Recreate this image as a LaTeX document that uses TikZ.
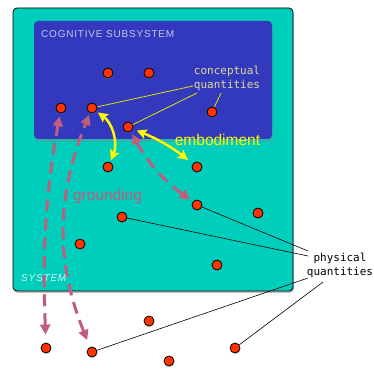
\documentclass[tikz,border=0pt]{standalone}
\usepackage{fontspec}
\setsansfont{Liberation Sans}
\setmonofont{DejaVu Sans Mono}
\newfontfamily\capsfont[LetterSpace=8]{Liberation Sans}
\usepackage{xcolor}
\usepackage{tikz}
\usetikzlibrary{arrows.meta,shadows,positioning}
\definecolor{sysgreen}{RGB}{0,206,188}
\definecolor{cogblue}{RGB}{50,57,189}
\definecolor{qred}{RGB}{255,51,0}
\definecolor{grpink}{RGB}{192,92,124}
\definecolor{embyellow}{RGB}{255,250,0}
\definecolor{cqtext}{RGB}{226,216,150}
\definecolor{cogtext}{RGB}{196,198,236}
\definecolor{systext}{RGB}{215,248,242}
\tikzset{
  node distance=1.2cm,
  qty/.style={circle,fill=qred,draw=black,line width=0.8pt,inner sep=0pt,
              minimum size=10pt,
              drop shadow={opacity=0.25,shadow xshift=0.5pt,shadow yshift=-1.5pt}},
  boxlabel/.style={anchor=base west,inner sep=0pt,font=\capsfont\fontsize{10}{12}\selectfont}
}

\begin{document}
\begin{tikzpicture}[x=1pt,y=1pt]
          \useasboundingbox (0,0) rectangle (374,369);
          % boxes
          \path[fill=sysgreen,draw=black,line width=0.8pt,rounded corners=4pt,
                drop shadow={opacity=0.5,shadow xshift=1pt,shadow yshift=-2pt}]
                (13,78) rectangle (293,361);
          \path[fill=cogblue,rounded corners=4pt,
                drop shadow={opacity=0.35,shadow xshift=1pt,shadow yshift=-3pt}]
                (34,230) rectangle (272,348);
          \node[boxlabel,text=cogtext] (coglabel) at (41,331) {COGNITIVE SUBSYSTEM};
          \node[boxlabel,text=systext,font=\capsfont\itshape\fontsize{10}{12}\selectfont]
                (syslabel) at (21,87) {SYSTEM};

          \begin{scope}[every node/.style={qty}]
              % conceptual quantities
              \node (c1) at (108,296) {};
              \node (c2) at (149,296) {};
              \node (c3) at (61,261)  {};
              \node (c4) at (92,261)  {};
              \node (c5) at (212,257) {};
              \node (c6) at (128,242) {};
              % physical quantities inside the system
              \node (s1) at (108,202) {};
              \node (s2) at (197,202) {};
              \node (s3) at (197,164) {};
              \node (s4) at (258,156) {};
              \node (s5) at (122,152) {};
              \node (s6) at (80,125)  {};
              \node (s7) at (217,104) {};
              % outside the system
              \node (e1) at (149,48)  {};
              \node (e2) at (46,21)   {};
              \node (e3) at (92,17)   {};
              \node (e4) at (235,21)  {};
              \node (e5) at (169,8)   {};
          \end{scope}

          \node[text=cqtext,align=center,font=\ttfamily\fontsize{11}{14}\selectfont]
                (cq) at (227,291) {conceptual\\quantities};
          \node[text=black,align=center,inner sep=0pt,font=\ttfamily\fontsize{11}{14}\selectfont]
                (pq) at (340,104) {physical\\quantities};
          \node[anchor=base,text=embyellow,font=\sffamily\fontsize{15.5}{18}\selectfont]
                (emb) at (217.5,223) {embodiment};
          \node[anchor=base,text=grpink,font=\sffamily\fontsize{15.5}{18}\selectfont]
                (grd) at (107.5,168) {grounding};

          \coordinate (cq1) at (193,283);
          \coordinate (cq2) at (197,276);
          \coordinate (cq3) at (221,276);
          \coordinate (pq1) at (308,118);
          \coordinate (pq2) at (308,113);
          \coordinate (pq3) at (308,91);
          \coordinate (pq4) at (323,87);

          \begin{scope}[every edge/.style={draw=embyellow!90!black,line width=0.8pt}]
              \path (cq1) edge (c4);
              \path (cq2) edge (c6);
              \path (cq3) edge (c5);
          \end{scope}

          \begin{scope}[every edge/.style={draw=black,line width=0.6pt}]
              \path (pq1) edge (s3);
              \path (pq2) edge (s5);
              \path (pq3) edge (e3);
              \path (pq4) edge (e4);
          \end{scope}

          \begin{scope}[>={Triangle[length=10pt,width=10pt]},
                        every edge/.style={draw=grpink,line width=3pt,
                                           dash pattern=on 12pt off 7pt}]
              \path [<->] (e2) edge[out=92,in=-100,shorten <=8pt,shorten >=3pt] (c3);
              \path [<->] (e3) edge[bend left=22,shorten <=7.5pt,shorten >=2pt] (c4);
              \path [<->] (c6) edge[bend right=12,shorten <=3pt,shorten >=3.5pt] (s3);
          \end{scope}

          \begin{scope}[>={Stealth[length=10pt,width=10pt,inset=2pt]},
                        every edge/.style={draw=embyellow,line width=2.5pt}]
              \path [<->] (c4) edge[bend left=38,shorten <=2pt,shorten >=2pt] (s1);
              \path [<->] (c6) edge[bend left=8,shorten <=4pt,shorten >=6pt] (s2);
          \end{scope}

          \end{tikzpicture}
\end{document}
